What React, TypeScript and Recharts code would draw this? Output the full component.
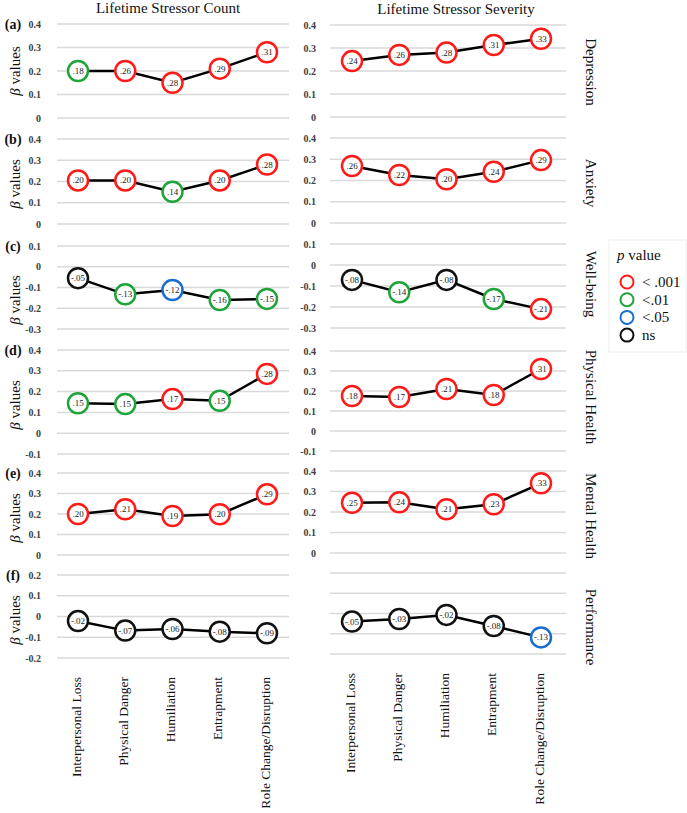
import React from "react";
import { LineChart, Line, XAxis, YAxis, CartesianGrid } from "recharts";

const categories = ["Interpersonal Loss", "Physical Danger", "Humiliation", "Entrapment", "Role Change/Disruption"];

const ticksPos = [0, 0.1, 0.2, 0.3, 0.4];
const ticksWell = [-0.3, -0.2, -0.1, 0, 0.1];
const ticksPhys = [-0.1, 0, 0.1, 0.2, 0.3, 0.4];
const ticksPerf = [-0.2, -0.1, 0, 0.1, 0.2];

// Lifetime Stressor Count
const countDepression = [0.2, 0.2, 0.15, 0.21, 0.28];
const countDepressionLabels = [".18", ".26", ".28", ".29", ".31"];
const countDepressionSig = ["p01", "p001", "p001", "p001", "p001"];

const countAnxiety = [0.205, 0.205, 0.152, 0.205, 0.28];
const countAnxietyLabels = [".20", ".20", ".14", ".20", ".28"];
const countAnxietySig = ["p001", "p001", "p01", "p001", "p001"];

const countWellbeing = [-0.055, -0.133, -0.112, -0.16, -0.155];
const countWellbeingLabels = ["-.05", "-.13", "-.12", "-.16", "-.15"];
const countWellbeingSig = ["ns", "p01", "p05", "p01", "p01"];

const countPhysical = [0.144, 0.14, 0.164, 0.156, 0.285];
const countPhysicalLabels = [".15", ".15", ".17", ".15", ".28"];
const countPhysicalSig = ["p01", "p01", "p001", "p01", "p001"];

const countMental = [0.2, 0.223, 0.19, 0.199, 0.296];
const countMentalLabels = [".20", ".21", ".19", ".20", ".29"];
const countMentalSig = ["p001", "p001", "p001", "p001", "p001"];

const countPerformance = [-0.022, -0.068, -0.06, -0.073, -0.081];
const countPerformanceLabels = ["-.02", "-.07", "-.06", "-.08", "-.09"];
const countPerformanceSig = ["ns", "ns", "ns", "ns", "ns"];

// Lifetime Stressor Severity
const sevDepression = [0.243, 0.27, 0.28, 0.313, 0.34];
const sevDepressionLabels = [".24", ".26", ".28", ".31", ".33"];
const sevDepressionSig = ["p001", "p001", "p001", "p001", "p001"];

const sevAnxiety = [0.268, 0.226, 0.206, 0.241, 0.296];
const sevAnxietyLabels = [".26", ".22", ".20", ".24", ".29"];
const sevAnxietySig = ["p001", "p001", "p001", "p001", "p001"];

const sevWellbeing = [-0.071, -0.13, -0.071, -0.162, -0.21];
const sevWellbeingLabels = ["-.08", "-.14", "-.08", "-.17", "-.21"];
const sevWellbeingSig = ["ns", "p01", "ns", "p01", "p001"];

const sevPhysical = [0.175, 0.17, 0.21, 0.18, 0.31];
const sevPhysicalLabels = [".18", ".17", ".21", ".18", ".31"];
const sevPhysicalSig = ["p001", "p001", "p001", "p001", "p001"];

const sevMental = [0.245, 0.247, 0.213, 0.238, 0.34];
const sevMentalLabels = [".25", ".24", ".21", ".23", ".33"];
const sevMentalSig = ["p001", "p001", "p001", "p001", "p001"];

const sevPerformance = [-0.04, -0.027, -0.007, -0.062, -0.118];
const sevPerformanceLabels = ["-.05", "-.03", "-.02", "-.08", "-.13"];
const sevPerformanceSig = ["ns", "ns", "ns", "ns", "p05"];

const outcomeNames = ["Depression", "Anxiety", "Well-being", "Physical Health", "Mental Health", "Performance"];
const panelLetters = ["(a)", "(b)", "(c)", "(d)", "(e)", "(f)"];
const legendKeys = ["p001", "p01", "p05", "ns"];
const legendLabels = ["< .001", "<.01", "<.05", "ns"];

const FONT = "'Liberation Serif', 'Times New Roman', Times, serif";
const SIG_COLORS: Record<string, string> = {
  p001: "#FF1A1A",
  p01: "#1FA33A",
  p05: "#1C6DD0",
  ns: "#111111",
};

type Row = { cat: string; v: number; label: string; sig: string };
const build = (vals: number[], labels: string[], sigs: string[]): Row[] =>
  categories.map((c, i) => ({ cat: c, v: vals[i], label: labels[i], sig: sigs[i] }));

const renderDot = (props: any) => {
  const { cx, cy, payload, index } = props;
  if (cx == null || cy == null) return <g key={`d${index}`} />;
  return (
    <g key={`d${index}`}>
      <circle cx={cx} cy={cy} r={10} fill="#fff" stroke={SIG_COLORS[payload.sig]} strokeWidth={2.5} />
      <text
        x={cx}
        y={cy}
        textAnchor="middle"
        dominantBaseline="central"
        fontSize={9}
        fontFamily={FONT}
        fill="#222"
      >
        {payload.label}
      </text>
    </g>
  );
};

const CatTick = (props: any) => {
  const { x, y, payload } = props;
  return (
    <text
      x={x - 2}
      y={y}
      transform={`rotate(-90, ${x - 2}, ${y})`}
      textAnchor="end"
      dominantBaseline="central"
      fontSize={13.5}
      fontFamily={FONT}
      fill="#111"
    >
      {payload.value}
    </text>
  );
};

const YTick = (props: any) => {
  const { x, y, payload } = props;
  return (
    <text
      x={x}
      y={y}
      dy="0.355em"
      textAnchor="end"
      fontSize={10}
      fontWeight={700}
      fontFamily={FONT}
      fill="#404040"
    >
      {payload.value}
    </text>
  );
};

const EmptyTick = () => <g />;

type PanelProps = {
  left: number;
  plotLeft: number;
  plotRight: number;
  top: number;
  bottom: number;
  domain: [number, number];
  ticks: number[];
  showTicks: boolean;
  tickMargin: number;
  padL: number;
  padR: number;
  data: Row[];
  showX: boolean;
};

function Panel(p: PanelProps) {
  const mTop = 12;
  const mBottom = p.showX ? 0 : 12;
  const xh = p.showX ? 160 : 0;
  const height = p.bottom - p.top + mTop + mBottom + xh;
  const width = p.plotRight - p.left + 4;
  return (
    <div style={{ position: "absolute", left: p.left, top: p.top - mTop }}>
      <LineChart width={width} height={height} data={p.data} margin={{ top: mTop, bottom: mBottom, left: 0, right: 4 }}>
        <CartesianGrid vertical={false} stroke="#d9d9d9" strokeWidth={1.5} />
        <XAxis
          dataKey="cat"
          hide={!p.showX}
          height={p.showX ? xh : 30}
          padding={{ left: p.padL, right: p.padR }}
          axisLine={false}
          tickLine={false}
          tickSize={0}
          tickMargin={19}
          interval={0}
          tick={CatTick}
        />
        <YAxis
          type="number"
          width={p.plotLeft - p.left}
          domain={p.domain}
          ticks={p.ticks}
          interval={0}
          axisLine={false}
          tickLine={false}
          tickSize={0}
          tickMargin={p.tickMargin}
          tick={p.showTicks ? YTick : EmptyTick}
        />
        <Line
          type="linear"
          dataKey="v"
          stroke="#000"
          strokeWidth={2.5}
          dot={renderDot}
          activeDot={false}
          isAnimationActive={false}
        />
      </LineChart>
    </div>
  );
}

const leftRows = [
  { top: 24, bottom: 118, domain: [0, 0.4] as [number, number], ticks: ticksPos, data: build(countDepression, countDepressionLabels, countDepressionSig) },
  { top: 139, bottom: 224, domain: [0, 0.4] as [number, number], ticks: ticksPos, data: build(countAnxiety, countAnxietyLabels, countAnxietySig) },
  { top: 246, bottom: 329, domain: [-0.3, 0.1] as [number, number], ticks: ticksWell, data: build(countWellbeing, countWellbeingLabels, countWellbeingSig) },
  { top: 350, bottom: 454, domain: [-0.1, 0.4] as [number, number], ticks: ticksPhys, data: build(countPhysical, countPhysicalLabels, countPhysicalSig) },
  { top: 473, bottom: 555, domain: [0, 0.4] as [number, number], ticks: ticksPos, data: build(countMental, countMentalLabels, countMentalSig) },
  { top: 575, bottom: 658, domain: [-0.2, 0.2] as [number, number], ticks: ticksPerf, data: build(countPerformance, countPerformanceLabels, countPerformanceSig) },
];

const rightRows = [
  { top: 25, bottom: 117, domain: [0, 0.4] as [number, number], ticks: ticksPos, data: build(sevDepression, sevDepressionLabels, sevDepressionSig) },
  { top: 138, bottom: 223, domain: [0, 0.4] as [number, number], ticks: ticksPos, data: build(sevAnxiety, sevAnxietyLabels, sevAnxietySig) },
  { top: 244, bottom: 328, domain: [-0.3, 0.1] as [number, number], ticks: ticksWell, data: build(sevWellbeing, sevWellbeingLabels, sevWellbeingSig) },
  { top: 351, bottom: 451, domain: [-0.1, 0.4] as [number, number], ticks: ticksPhys, data: build(sevPhysical, sevPhysicalLabels, sevPhysicalSig) },
  { top: 471, bottom: 553, domain: [0, 0.4] as [number, number], ticks: ticksPos, data: build(sevMental, sevMentalLabels, sevMentalSig) },
  { top: 573, bottom: 654, domain: [-0.2, 0.2] as [number, number], ticks: ticksPerf, data: build(sevPerformance, sevPerformanceLabels, sevPerformanceSig) },
];

const letterY = [24, 139, 246, 350, 473, 575];
const betaY = [71, 184, 300, 405, 518, 620];
const outcomeY = [72, 183, 284, 397, 516, 627];

export default function App() {
  return (
    <div style={{ position: "absolute", left: 0, top: 0, width: 687, height: 813, background: "#fff", overflow: "hidden" }}>
      <svg width={687} height={813} style={{ position: "absolute", left: 0, top: 0 }}>
        <text x={168} y={13} textAnchor="middle" fontSize={15} fontFamily={FONT} fill="#111">
          Lifetime Stressor Count
        </text>
        <text x={456} y={14} textAnchor="middle" fontSize={15} fontFamily={FONT} fill="#111">
          Lifetime Stressor Severity
        </text>
        {panelLetters.map((l, i) => (
          <text key={l} x={13} y={letterY[i]} textAnchor="middle" dominantBaseline="central" fontSize={14} fontWeight={700} fontFamily={FONT} fill="#111">
            {l}
          </text>
        ))}
        {betaY.map((y, i) => (
          <text key={`b${i}`} transform={`translate(15, ${y}) rotate(-90)`} textAnchor="middle" dominantBaseline="central" fontSize={15} fontFamily={FONT} fill="#111">
            <tspan fontStyle="italic">β</tspan> values
          </text>
        ))}
        {outcomeNames.map((n, i) => (
          <text key={n} transform={`translate(591, ${outcomeY[i]}) rotate(90)`} textAnchor="middle" dominantBaseline="central" fontSize={15} fontFamily={FONT} fill="#111">
            {n}
          </text>
        ))}
        <rect x={609} y={240} width={77} height={112} fill="none" stroke="#eeeeee" />
        <text x={617} y={260} fontSize={15} fontFamily={FONT} fill="#111">
          <tspan fontStyle="italic">p</tspan> value
        </text>
        {legendKeys.map((k, i) => (
          <g key={k}>
            <circle cx={627} cy={282 + i * 17.7} r={6.5} fill="#fff" stroke={SIG_COLORS[k]} strokeWidth={2} />
            <text x={642} y={282 + i * 17.7} dominantBaseline="central" fontSize={15} fontFamily={FONT} fill="#111">
              {legendLabels[i]}
            </text>
          </g>
        ))}
      </svg>
      {leftRows.map((r, i) => (
        <Panel
          key={`l${i}`}
          left={0}
          plotLeft={57}
          plotRight={289}
          top={r.top}
          bottom={r.bottom}
          domain={r.domain}
          ticks={r.ticks}
          showTicks={true}
          tickMargin={16}
          padL={21}
          padR={22}
          data={r.data}
          showX={i === 5}
        />
      ))}
      {rightRows.map((r, i) => (
        <Panel
          key={`r${i}`}
          left={290}
          plotLeft={330}
          plotRight={566}
          top={r.top}
          bottom={r.bottom}
          domain={r.domain}
          ticks={r.ticks}
          showTicks={i !== 5}
          tickMargin={14}
          padL={22}
          padR={25}
          data={r.data}
          showX={i === 5}
        />
      ))}
    </div>
  );
}
